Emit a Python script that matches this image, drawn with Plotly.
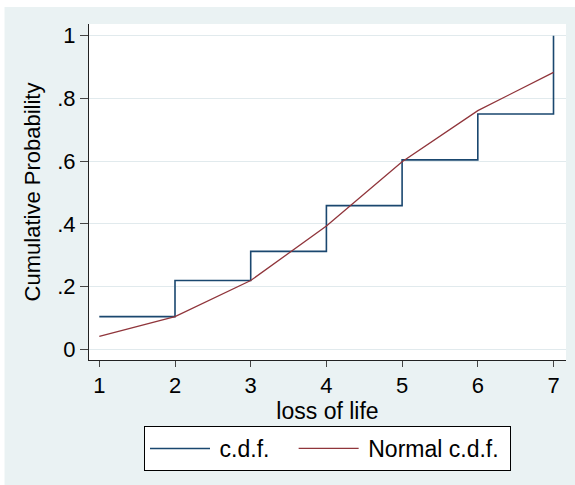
import plotly.graph_objects as go

# ---- data ----
loss_of_life = [1, 2, 3, 4, 5, 6, 7]
cdf_values = [0.104, 0.219, 0.312, 0.458, 0.604, 0.750, 1.000]
normal_cdf_values = [0.041, 0.104, 0.219, 0.393, 0.598, 0.761, 0.883]
y_tick_vals = [0, 0.2, 0.4, 0.6, 0.8, 1]
y_tick_text = ["0", ".2", ".4", ".6", ".8", "1"]
x_tick_vals = [1, 2, 3, 4, 5, 6, 7]
series_names = ["c.d.f.", "Normal c.d.f."]

W, H = 575, 485
ML, MR, MT, MB = 89, 9, 24, 125
PW, PH = W - ML - MR, H - MT - MB

FONT = "Liberation Sans, Arial, sans-serif"
BG = "#EAF2F3"
GRID = "#E1EAED"
BLUE = "#1A476F"
RED = "#90353B"
NB = "\u00a0"
TS = "\u2009"

fig = go.Figure()
fig.add_trace(go.Scatter(
    x=loss_of_life, y=cdf_values, mode="lines",
    name=TS + series_names[0] + NB * 3,
    line=dict(color=BLUE, width=1.6, shape="hv"),
))
fig.add_trace(go.Scatter(
    x=loss_of_life, y=normal_cdf_values, mode="lines",
    name=TS + series_names[1] + NB,
    line=dict(color=RED, width=1.3),
))

def px_x(p):
    return (p - ML) / PW

def px_y(p):
    return (H - MB - p) / PH

# thin white border strips (top and left) around the graph region
fig.add_shape(type="rect", xref="paper", yref="paper",
              x0=px_x(-2), x1=px_x(W + 2), y0=px_y(7), y1=px_y(-2),
              fillcolor="white", line=dict(width=0), layer="below")
fig.add_shape(type="rect", xref="paper", yref="paper",
              x0=px_x(-2), x1=px_x(4.5), y0=px_y(H + 2), y1=px_y(-2),
              fillcolor="white", line=dict(width=0), layer="below")

fig.update_layout(
    width=W, height=H,
    margin=dict(l=ML, r=MR, t=MT, b=MB),
    paper_bgcolor=BG, plot_bgcolor="white",
    font=dict(family=FONT, size=22, color="#000"),
    showlegend=True,
    legend=dict(
        orientation="h", x=0.5, xanchor="center", y=px_y(426), yanchor="top",
        bgcolor="white", bordercolor="#000", borderwidth=1,
        font=dict(size=23), itemwidth=60, entrywidth=0,
    ),
    xaxis=dict(
        range=[0.864, 7.165], tickvals=x_tick_vals,
        showline=True, linecolor="#222", linewidth=1,
        ticks="outside", ticklen=6, tickcolor="#444",
        showgrid=False, zeroline=False,
        tickfont=dict(size=22),
        title=dict(text="loss of life", font=dict(size=23), standoff=2),
    ),
    yaxis=dict(
        range=[-0.0344, 1.0373], tickvals=y_tick_vals, ticktext=y_tick_text,
        showline=True, linecolor="#222", linewidth=1,
        ticks="outside", ticklen=8, tickcolor="#444",
        showgrid=True, gridcolor=GRID, gridwidth=1, zeroline=False,
        tickfont=dict(size=22),
        title=dict(text="Cumulative Probability", font=dict(size=22), standoff=10),
    ),
)

fig.write_html("out.html", config={"displayModeBar": False},
               post_script="document.body.style.margin='0';")
